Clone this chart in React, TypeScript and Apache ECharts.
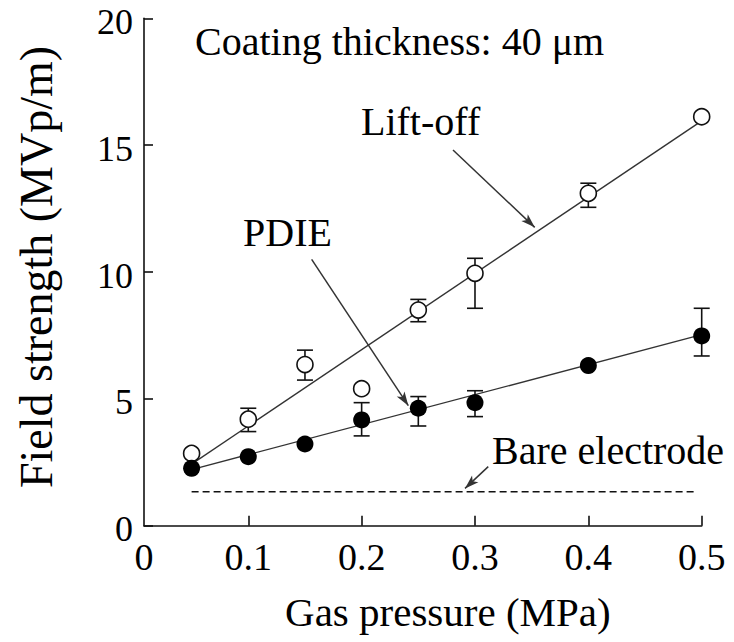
import React, { useEffect, useRef } from "react";
import * as echarts from "echarts";

// ---- data ----
const pressures = [0.05, 0.1, 0.15, 0.2, 0.25, 0.3, 0.4, 0.5];
const liftOff = [2.85, 4.2, 6.35, 5.4, 8.5, 9.95, 13.1, 16.12];
const liftErrLow = [null, 3.71, 5.74, null, 8.04, 8.57, 12.55, null];
const liftErrHigh = [null, 4.63, 6.92, null, 8.92, 10.54, 13.5, null];
const pdie = [2.26, 2.72, 3.22, 4.17, 4.63, 4.85, 6.31, 7.48];
const pdieErrLow = [null, null, null, 3.54, 3.93, 4.3, null, 6.69];
const pdieErrHigh = [null, null, null, 4.85, 5.09, 5.32, null, 8.57];
const fitX = [0.05, 0.5];
const liftFitY = [2.43, 15.96];
const pdieFitY = [2.21, 7.53];
const bareX = [0.05, 0.495];
const bareY = [1.34, 1.34];
const xMin = 0.008;
const xTicks = [0.1, 0.2, 0.3, 0.4, 0.5];
const xLabelValues = [xMin, 0.1, 0.2, 0.3, 0.4, 0.5];
const xLabelTexts = ["0", "0.1", "0.2", "0.3", "0.4", "0.5"];
// annotation arrows [x1, y1, x2, y2] in data units
const liftArrow = [0.2806, 14.81, 0.3527, 11.76];
const pdieArrow = [0.1559, 10.5, 0.2412, 4.73];
const bareArrow = [0.3117, 2.33, 0.2912, 1.47];

const FONT = "Liberation Serif";

export default function App() {
  const ref = useRef<HTMLDivElement>(null);
  useEffect(() => {
    if (!ref.current) return;
    const chart = echarts.init(ref.current, null, { renderer: "svg" });
    const errData = (lo: (number | null)[], hi: (number | null)[]) =>
      pressures
        .map((p, i) => (lo[i] == null ? null : [p, lo[i], hi[i]]))
        .filter((d) => d != null);
    const renderErr = (params: any, api: any) => {
      const x = api.value(0);
      const p1 = api.coord([x, api.value(1)]);
      const p2 = api.coord([x, api.value(2)]);
      const w = 8;
      const st = { stroke: "#111", lineWidth: 1.6 };
      return {
        type: "group",
        children: [
          { type: "line", shape: { x1: p1[0], y1: p1[1], x2: p2[0], y2: p2[1] }, style: st },
          { type: "line", shape: { x1: p1[0] - w, y1: p1[1], x2: p1[0] + w, y2: p1[1] }, style: st },
          { type: "line", shape: { x1: p2[0] - w, y1: p2[1], x2: p2[0] + w, y2: p2[1] }, style: st },
        ],
      };
    };
    const arrowLine = (a: number[]) => [
      { coord: [a[0], a[1]], symbol: "none" },
      { coord: [a[2], a[3]], symbol: "arrow", symbolSize: [7, 14] },
    ];
    const textEl = (t: string, x: number, y: number) => ({
      type: "text",
      left: x,
      top: y,
      style: { text: t, fill: "#000", fontFamily: FONT, fontSize: 40 },
    });
    chart.setOption({
      animation: false,
      backgroundColor: "#fff",
      textStyle: { fontFamily: FONT },
      grid: { left: 144, right: 32.3, top: 18.3, bottom: 116.3, outerBoundsMode: "none", containLabel: false },
      xAxis: {
        type: "value",
        min: xMin,
        max: 0.5,
        splitLine: { show: false },
        axisLine: { lineStyle: { color: "#111", width: 1.6 } },
        axisTick: { inside: true, length: 10, customValues: xTicks, lineStyle: { color: "#111", width: 1.6 } },
        axisLabel: {
          customValues: xLabelValues,
          formatter: (v: number) => xLabelTexts[xLabelValues.findIndex((u) => Math.abs(u - v) < 1e-6)] ?? "",
          color: "#000",
          fontFamily: FONT,
          fontSize: 38,
          margin: 12,
        },
        name: "Gas pressure (MPa)",
        nameLocation: "middle",
        nameGap: 66,
        nameTextStyle: { color: "#000", fontFamily: FONT, fontSize: 41, padding: [0, 0, 0, 50] },
      },
      yAxis: {
        type: "value",
        min: 0,
        max: 20,
        interval: 5,
        splitLine: { show: false },
        axisLine: { show: true, lineStyle: { color: "#111", width: 1.6 } },
        axisTick: { show: true, inside: true, length: 9, lineStyle: { color: "#111", width: 1.6 } },
        axisLabel: {
          color: "#000",
          margin: 11,
          formatter: (v: number) => `{n|${v}}`,
          rich: {
            n: {
              fontFamily: FONT,
              fontSize: 36,
              color: "#000",
              lineHeight: 30,
              padding: [7, 0, 0, 0],
            },
          },
        },
        name: "Field strength (MVp/m)",
        nameLocation: "middle",
        nameGap: 85,
        nameTextStyle: { color: "#000", fontFamily: FONT, fontSize: 46, padding: [0, 0, 0, 10] },
      },
      series: [
        {
          type: "line",
          data: bareX.map((x, i) => [x, bareY[i]]),
          symbol: "none",
          lineStyle: { color: "#111", width: 1.6, type: [7, 4] },
          z: 2,
          markLine: {
            silent: true,
            label: { show: false },
            lineStyle: { color: "#333", width: 1.5, type: "solid" },
            data: [arrowLine(liftArrow), arrowLine(pdieArrow), arrowLine(bareArrow)],
          },
        },
        {
          type: "line",
          data: fitX.map((x, i) => [x, liftFitY[i]]),
          symbol: "none",
          lineStyle: { color: "#333", width: 1.4 },
          z: 2,
        },
        {
          type: "line",
          data: fitX.map((x, i) => [x, pdieFitY[i]]),
          symbol: "none",
          lineStyle: { color: "#333", width: 1.4 },
          z: 2,
        },
        { type: "custom", data: errData(liftErrLow, liftErrHigh), renderItem: renderErr, z: 3 },
        { type: "custom", data: errData(pdieErrLow, pdieErrHigh), renderItem: renderErr, z: 3 },
        {
          type: "scatter",
          data: pressures.map((p, i) => [p, liftOff[i]]),
          symbol: "circle",
          symbolSize: 16,
          itemStyle: { color: "#fff", borderColor: "#111", borderWidth: 1.6, opacity: 1 },
          z: 4,
        },
        {
          type: "scatter",
          data: pressures.map((p, i) => [p, pdie[i]]),
          symbol: "circle",
          symbolSize: 17,
          itemStyle: { color: "#000", opacity: 1 },
          z: 5,
        },
      ],
      graphic: [
        textEl("Coating thickness: 40 μm", 195, 21),
        textEl("Lift-off", 361, 101),
        textEl("PDIE", 243, 212),
        textEl("Bare electrode", 492, 430),
      ],
    });
    return () => chart.dispose();
  }, []);
  return (
    <div
      ref={ref}
      style={{ position: "fixed", left: 0, top: 0, width: 734, height: 642, background: "#fff" }}
    />
  );
}
